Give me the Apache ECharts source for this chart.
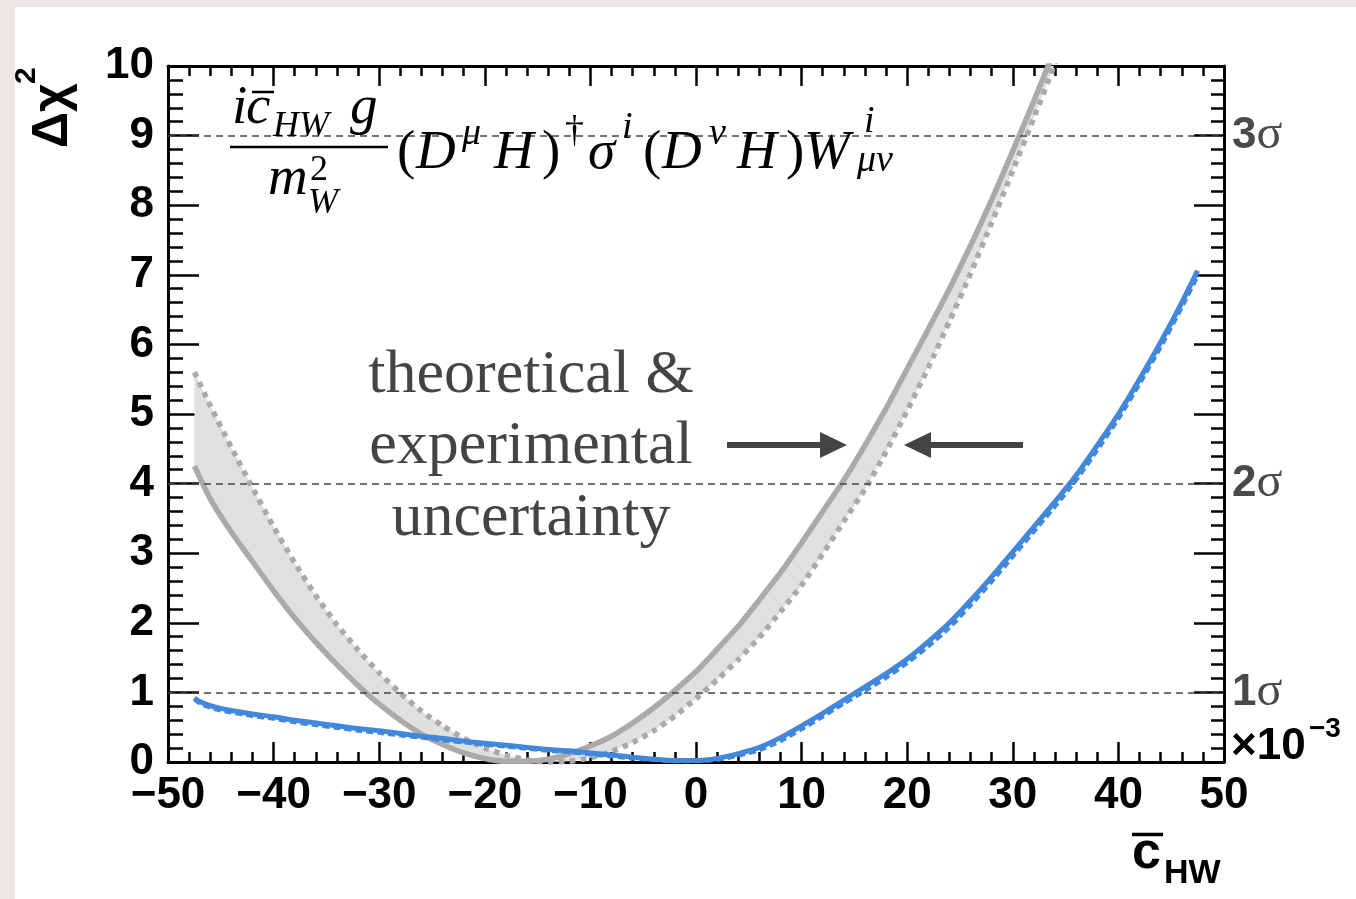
<!DOCTYPE html>
<html><head><meta charset="utf-8">
<script src="https://cdn.jsdelivr.net/npm/echarts@6/dist/echarts.min.js"></script>
<style>html,body{margin:0;padding:0;background:#ebe8e4;} #c{width:1356px;height:899px;}</style>
</head><body><div id="c"></div>
<script>
// ---- data ----
const grayX = [-47.5,-46,-44,-42,-40,-38,-36,-34,-32,-30,-28,-26,-24,-22,-20,-18,-16,-14,-12,-10,-8,-6,-4,-2,0,2,4,6,8,10,12,14,16,18,20,22,24,26,28,30,32,34,36];
const grayTheory = [4.25,3.78,3.30,2.88,2.46,2.07,1.72,1.40,1.10,0.83,0.60,0.40,0.25,0.13,0.05,0.01,0.01,0.04,0.12,0.23,0.37,0.56,0.78,1.03,1.30,1.62,1.95,2.33,2.72,3.15,3.60,4.05,4.55,5.08,5.65,6.22,6.80,7.42,8.08,8.78,9.50,10.25,11.0];
const grayDotted = [5.60,5.12,4.52,3.94,3.38,2.86,2.39,1.97,1.61,1.28,0.99,0.73,0.52,0.34,0.20,0.10,0.03,0.00,0.01,0.06,0.15,0.28,0.45,0.66,0.91,1.18,1.47,1.79,2.16,2.54,2.99,3.46,3.92,4.46,5.05,5.67,6.33,7.02,7.75,8.50,9.26,10.04,10.85];
const blueX = [-47.5,-47,-46,-45,-44,-42,-40,-38,-36,-34,-32,-30,-28,-26,-24,-22,-20,-18,-16,-14,-12,-10,-8,-6,-4,-2,0,2,4,6,8,10,12,14,16,18,20,22,24,26,28,30,32,34,36,38,40,42,44,46,47.5];
const blueSolid = [0.92,0.87,0.81,0.77,0.74,0.69,0.65,0.60,0.56,0.52,0.48,0.45,0.41,0.37,0.34,0.30,0.27,0.24,0.21,0.18,0.16,0.13,0.10,0.07,0.04,0.02,0.02,0.05,0.12,0.21,0.35,0.52,0.70,0.89,1.08,1.27,1.48,1.73,2.00,2.32,2.66,3.02,3.38,3.74,4.12,4.55,5.00,5.50,6.03,6.60,7.06];
const blueDashed = [0.90,0.84,0.78,0.74,0.71,0.66,0.62,0.57,0.53,0.49,0.45,0.42,0.38,0.35,0.31,0.28,0.25,0.22,0.19,0.16,0.14,0.11,0.08,0.05,0.03,0.01,0.01,0.03,0.09,0.17,0.30,0.47,0.65,0.84,1.02,1.21,1.42,1.66,1.93,2.25,2.59,2.95,3.31,3.67,4.05,4.48,4.93,5.43,5.96,6.53,6.98];
const sigmaLevels = [1, 4, 9];
const sigmaNames = ['1', '2', '3'];

// ---- derived ----
const pairs = (xs, ys) => xs.map((x, i) => [x, ys[i]]);
const bandRows = grayX.map((x, i) => [x, Math.min(grayTheory[i], grayDotted[i]), Math.max(grayTheory[i], grayDotted[i])]);

const SANS = '"Liberation Sans", Arial, sans-serif';
const SERIF = '"Liberation Serif", "Times New Roman", serif';
const BLUE = '#4187dc';
const GRAY = '#aaaaaa';
const SM = 0.2;

function txt(x, y, text, font, fill, align, extra) {
  return Object.assign({ type: 'text', x: x, y: y, z: 100,
    style: { text: text, font: font, fill: fill || '#000', textAlign: align || 'left', textVerticalAlign: 'middle' } }, extra || {});
}
function seg(x1, y1, x2, y2, w, c) {
  return { type: 'line', z: 100, shape: { x1: x1, y1: y1, x2: x2, y2: y2 }, style: { stroke: c || '#000', lineWidth: w } };
}
const it54 = 'italic 55px ' + SERIF, it38 = 'italic 38px ' + SERIF, up54 = '55px ' + SERIF, up38 = '38px ' + SERIF, it36 = 'italic 36px ' + SERIF;
const graphics = [
  { type: 'rect', z: -100, shape: { x: 15, y: 7, width: 1341, height: 892 }, style: { fill: '#ffffff' } },
  // formula numerator
  txt(232, 109, 'i', it54), txt(246, 109, 'c', it54), seg(252, 92, 274, 92, 2.5),
  txt(273, 127, 'HW', it36), txt(350, 109, 'g', it54),
  seg(230, 147, 388, 147, 2.5),
  // denominator
  txt(268, 180, 'm', it54), txt(310, 171, '2', '36px ' + SERIF), txt(308, 204, 'W', it36),
  // rest
  txt(397, 154, '(', up54), txt(416, 154, 'D', it54), txt(462, 134, 'μ', it38), txt(494, 154, 'H', it54),
  txt(542, 154, ')', up54), txt(565, 132, '†', up38), txt(588, 154, 'σ', it54), txt(622, 128, 'i', it38),
  txt(643, 154, '(', up54), txt(662, 154, 'D', it54), txt(709, 134, 'ν', it38), txt(737, 154, 'H', it54),
  txt(786, 154, ')', up54), txt(804, 154, 'W', it54), txt(864, 122, 'i', it38), txt(857, 161, 'μν', it38),
  // annotation text
  txt(531, 376, 'theoretical &', '62px ' + SERIF, '#444', 'center'),
  txt(531, 447, 'experimental', '62px ' + SERIF, '#444', 'center'),
  txt(531, 519, 'uncertainty', '62px ' + SERIF, '#444', 'center'),
  // arrows
  seg(727, 445, 824, 445, 6, '#444'),
  { type: 'polygon', z: 100, shape: { points: [[847, 445], [820, 432], [820, 458]] }, style: { fill: '#444' } },
  seg(1023, 445, 927, 445, 6, '#444'),
  { type: 'polygon', z: 100, shape: { points: [[904, 445], [931, 432], [931, 458]] }, style: { fill: '#444' } },
  // y title
  txt(53, 148, 'Δχ', 'bold 50px ' + SANS, '#000', 'left', { rotation: Math.PI / 2 }),
  txt(27, 84, '2', 'bold 30px ' + SANS, '#000', 'left', { rotation: Math.PI / 2 }),
  // x title
  txt(1132, 854, 'c', 'bold 52px ' + SANS), seg(1132, 834.5, 1163, 834.5, 3.5),
  txt(1164, 874, 'HW', 'bold 34px ' + SANS),
  // exponent
  txt(1231, 747, '×10', 'bold 44px ' + SANS), txt(1309, 729, '−3', 'bold 28px ' + SANS)
];

const tickLbl = v => String(v).replace('-', '\u2212');
function xAx(pos, show) {
  return {
    type: 'value', position: pos, min: -50, max: 50, interval: 10,
    axisLine: { show: true, onZero: false, lineStyle: { color: '#000', width: 3 } },
    axisTick: { show: true, inside: true, length: 20, lineStyle: { color: '#000', width: 2.5 } },
    minorTick: { show: true, splitNumber: 5, length: 10, lineStyle: { color: '#000', width: 2.5 } },
    splitLine: { show: false },
    axisLabel: { show: show, margin: 12, formatter: tickLbl, fontFamily: SANS, fontWeight: 'bold', fontSize: 44, color: '#000' }
  };
}
function yAx(pos, show, maj, min) {
  return {
    type: 'value', position: pos, min: 0, max: 10, interval: 1,
    axisLine: { show: true, onZero: false, lineStyle: { color: '#000', width: 3 } },
    axisTick: { show: true, inside: true, length: maj, lineStyle: { color: '#000', width: 2.5 } },
    minorTick: { show: true, splitNumber: 5, length: min, lineStyle: { color: '#000', width: 2.5 } },
    splitLine: { show: false },
    axisLabel: { show: show, margin: 14, fontFamily: SANS, fontWeight: 'bold', fontSize: 44, color: '#000' }
  };
}

const option = {
  animation: false,
  backgroundColor: '#ebe8e4',
  grid: { left: 168, right: 132, top: 66, bottom: 137, containLabel: false },
  xAxis: [xAx('bottom', true), xAx('top', false)],
  yAxis: [yAx('left', true, 31, 15), yAx('right', false, 30, 13)],
  graphic: { elements: graphics },
  series: [
    { type: 'custom', z: 2, silent: true, data: bandRows,
      encode: { x: 0, y: [1, 2] },
      renderItem: function (params, api) {
        if (params.dataIndex !== 0) return null;
        const upper = bandRows.map(r => api.coord([r[0], r[2]]));
        const lower = bandRows.slice().reverse().map(r => api.coord([r[0], r[1]]));
        const cs = params.coordSys;
        return { type: 'group', children: [
          { type: 'polygon', shape: { points: upper.concat(lower) }, style: { fill: '#e0e0e0' } }
        ], clipPath: { type: 'rect', shape: { x: cs.x, y: cs.y, width: cs.width, height: cs.height } } };
      }
    },
    { type: 'line', data: pairs(grayX, grayTheory), smooth: SM, symbol: 'none', lineStyle: { color: GRAY, width: 5.5 }, z: 3 },
    { type: 'line', data: pairs(grayX, grayDotted), smooth: SM, symbol: 'none', lineStyle: { color: GRAY, width: 5.5, type: [5.5, 5.5], cap: 'butt' }, z: 3 },
    { type: 'line', data: pairs(blueX, blueDashed), smooth: SM, symbol: 'none', lineStyle: { color: BLUE, width: 4, type: [7, 4], cap: 'butt' }, z: 4 },
    { type: 'line', data: pairs(blueX, blueSolid), smooth: SM, symbol: 'none', lineStyle: { color: BLUE, width: 5 }, z: 5,
      markLine: {
        silent: true, symbol: ['none', 'none'], animation: false,
        lineStyle: { color: '#444', width: 1.5, type: [7, 5] },
        label: {
          show: true, position: 'end', distance: 8,
          rich: {
            n: { fontFamily: SANS, fontWeight: 'bold', fontSize: 44, color: '#4a4a4a' },
            s: { fontFamily: SERIF, fontSize: 48, color: '#4a4a4a' }
          }
        },
        data: sigmaLevels.map((v, i) => ({ yAxis: v, label: { formatter: '{n|' + sigmaNames[i] + '}{s|σ}' } }))
      }
    }
  ]
};
const chart = echarts.init(document.getElementById('c'), null, { renderer: 'canvas' });
chart.setOption(option);
</script></body></html>
